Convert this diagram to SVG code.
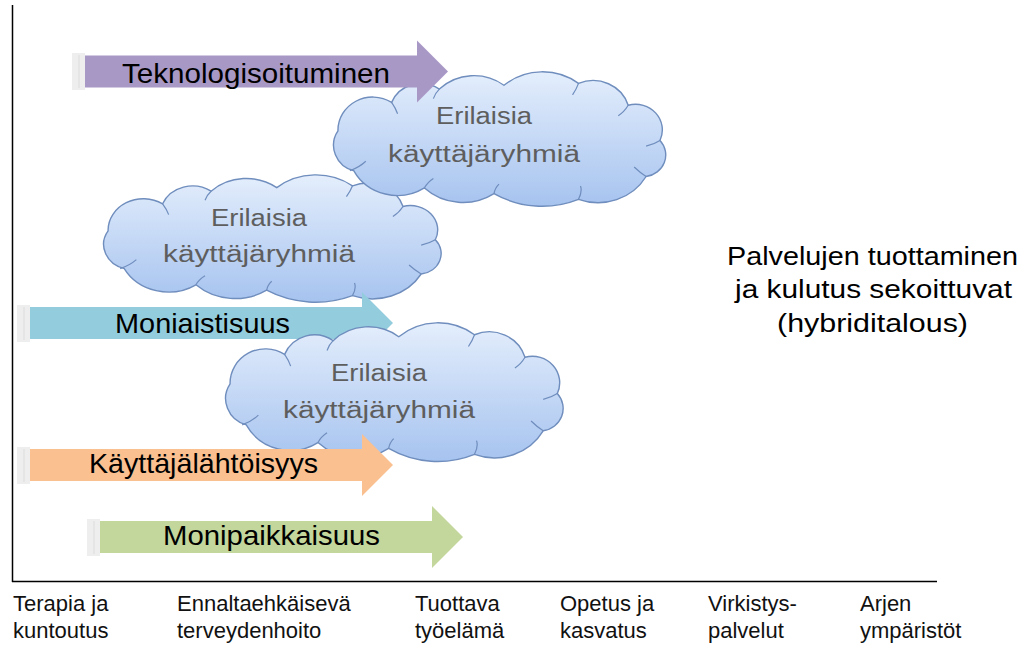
<svg xmlns="http://www.w3.org/2000/svg" xmlns:xlink="http://www.w3.org/1999/xlink" width="1027" height="645" viewBox="0 0 1027 645">
<style>
.lbl{font-family:"Liberation Sans",Arial,sans-serif;font-size:28px;fill:#000}
.cl{font-family:"Liberation Sans",Arial,sans-serif;font-size:23px;fill:#5e5e5e}
.rt{font-family:"Liberation Sans",Arial,sans-serif;font-size:26px;fill:#000}
.ax{font-family:"Liberation Sans",Arial,sans-serif;font-size:22px;fill:#111}
.cloud{fill:url(#cg);stroke:#6f8dbd;stroke-width:1.4}
.inner{fill:none;stroke:#6f8dbd;stroke-width:1.2}
.tab{fill:#eeeeee}
.tabl{stroke:#dcdcdc;stroke-width:1}
</style>
<defs>
<linearGradient id="cg" x1="0" y1="0" x2="0" y2="1">
<stop offset="0" stop-color="#e4eefc"/>
<stop offset="1" stop-color="#a6c3ef"/>
</linearGradient>
<path id="arrow" d="M0,-16 H332 V-31 L363,0 L332,31 V16 H0 Z"/>
<g id="cloudshape">
<path class="cloud" vector-effect="non-scaling-stroke" d="M8,62 A35,35 0 0 1 62,32 A32,32 0 0 1 110,18 A50,50 0 0 1 175,14 A60,60 0 0 1 250,12 A37,37 0 0 1 300,35 A27,27 0 0 1 332,72 A23,23 0 0 1 318,110 A56,56 0 0 1 250,134 A95,95 0 0 1 165,128 A57,57 0 0 1 95,122 A50,50 0 0 1 24,104 A28,28 0 0 1 8,62 Z"/>
<path class="inner" vector-effect="non-scaling-stroke" d="M20,104 Q30,100 36,94 M62,32 Q66,38 68,44 M110,18 Q106,22 104,28 M250,12 Q248,18 244,24 M300,35 Q296,42 290,46 M332,72 Q326,76 318,78 M318,110 Q312,106 306,100 M250,134 Q254,126 252,120 M165,128 Q166,122 170,118 M95,122 Q98,116 104,112"/>
</g>
</defs>

<g id="axes">
<line x1="12.5" y1="5" x2="12.5" y2="582" stroke="#000" stroke-width="1.5"/>
<line x1="12" y1="581.5" x2="937" y2="581.5" stroke="#000" stroke-width="1.5"/>
</g>

<g id="cloud2">
<use xlink:href="#cloudshape" transform="translate(100,175) scale(1.01,0.9)"/>
<text class="cl" x="211" y="226" textLength="96" lengthAdjust="spacingAndGlyphs">Erilaisia</text>
<text class="cl" x="163" y="262" textLength="192" lengthAdjust="spacingAndGlyphs">käyttäjäryhmiä</text>
</g>

<g id="cloud1">
<use xlink:href="#cloudshape" transform="translate(330,72) scale(0.994,0.95)"/>
<text class="cl" x="436" y="124" textLength="96" lengthAdjust="spacingAndGlyphs">Erilaisia</text>
<text class="cl" x="388" y="162" textLength="192" lengthAdjust="spacingAndGlyphs">käyttäjäryhmiä</text>
</g>

<g id="arrow-teknologisoituminen">
<rect class="tab" x="72" y="53" width="13" height="37"/>
<line class="tabl" x1="79" y1="55" x2="79" y2="88"/>
<use xlink:href="#arrow" x="85" y="71.5" fill="#a898c6"/>
<text class="lbl" x="122" y="83" textLength="268" lengthAdjust="spacingAndGlyphs">Teknologisoituminen</text>
</g>

<g id="arrow-moniaistisuus">
<rect class="tab" x="17" y="305" width="13" height="37"/>
<line class="tabl" x1="24" y1="307" x2="24" y2="340"/>
<use xlink:href="#arrow" x="30" y="323" fill="#93cddd"/>
<text class="lbl" x="115" y="333" textLength="175" lengthAdjust="spacingAndGlyphs">Moniaistisuus</text>
</g>

<g id="cloud3">
<use xlink:href="#cloudshape" transform="translate(222,323) scale(1.01,0.98)"/>
<text class="cl" x="331" y="381" textLength="96" lengthAdjust="spacingAndGlyphs">Erilaisia</text>
<text class="cl" x="283" y="418" textLength="192" lengthAdjust="spacingAndGlyphs">käyttäjäryhmiä</text>
</g>

<g id="arrow-kayttajalahtoisyys">
<rect class="tab" x="17" y="447" width="13" height="37"/>
<line class="tabl" x1="24" y1="449" x2="24" y2="482"/>
<use xlink:href="#arrow" x="30" y="465" fill="#fac090"/>
<text class="lbl" x="89" y="473" textLength="229" lengthAdjust="spacingAndGlyphs">Käyttäjälähtöisyys</text>
</g>

<g id="arrow-monipaikkaisuus">
<rect class="tab" x="87" y="519" width="13" height="37"/>
<line class="tabl" x1="94" y1="521" x2="94" y2="554"/>
<use xlink:href="#arrow" x="100" y="537" fill="#c3d69b"/>
<text class="lbl" x="163" y="545" textLength="217" lengthAdjust="spacingAndGlyphs">Monipaikkaisuus</text>
</g>

<g id="hybrid-text">
<text class="rt" x="727" y="265" textLength="291" lengthAdjust="spacingAndGlyphs">Palvelujen tuottaminen</text>
<text class="rt" x="735" y="298" textLength="277" lengthAdjust="spacingAndGlyphs">ja kulutus sekoittuvat</text>
<text class="rt" x="777" y="332" textLength="191" lengthAdjust="spacingAndGlyphs">(hybriditalous)</text>
</g>

<g id="axis-labels">
<text class="ax" x="13" y="611">Terapia ja</text>
<text class="ax" x="13" y="638">kuntoutus</text>
<text class="ax" x="177" y="611">Ennaltaehkäisevä</text>
<text class="ax" x="177" y="638">terveydenhoito</text>
<text class="ax" x="415" y="611">Tuottava</text>
<text class="ax" x="415" y="638">työelämä</text>
<text class="ax" x="560" y="611">Opetus ja</text>
<text class="ax" x="560" y="638">kasvatus</text>
<text class="ax" x="708" y="611">Virkistys-</text>
<text class="ax" x="708" y="638">palvelut</text>
<text class="ax" x="860" y="611">Arjen</text>
<text class="ax" x="860" y="638">ympäristöt</text>
</g>
</svg>
